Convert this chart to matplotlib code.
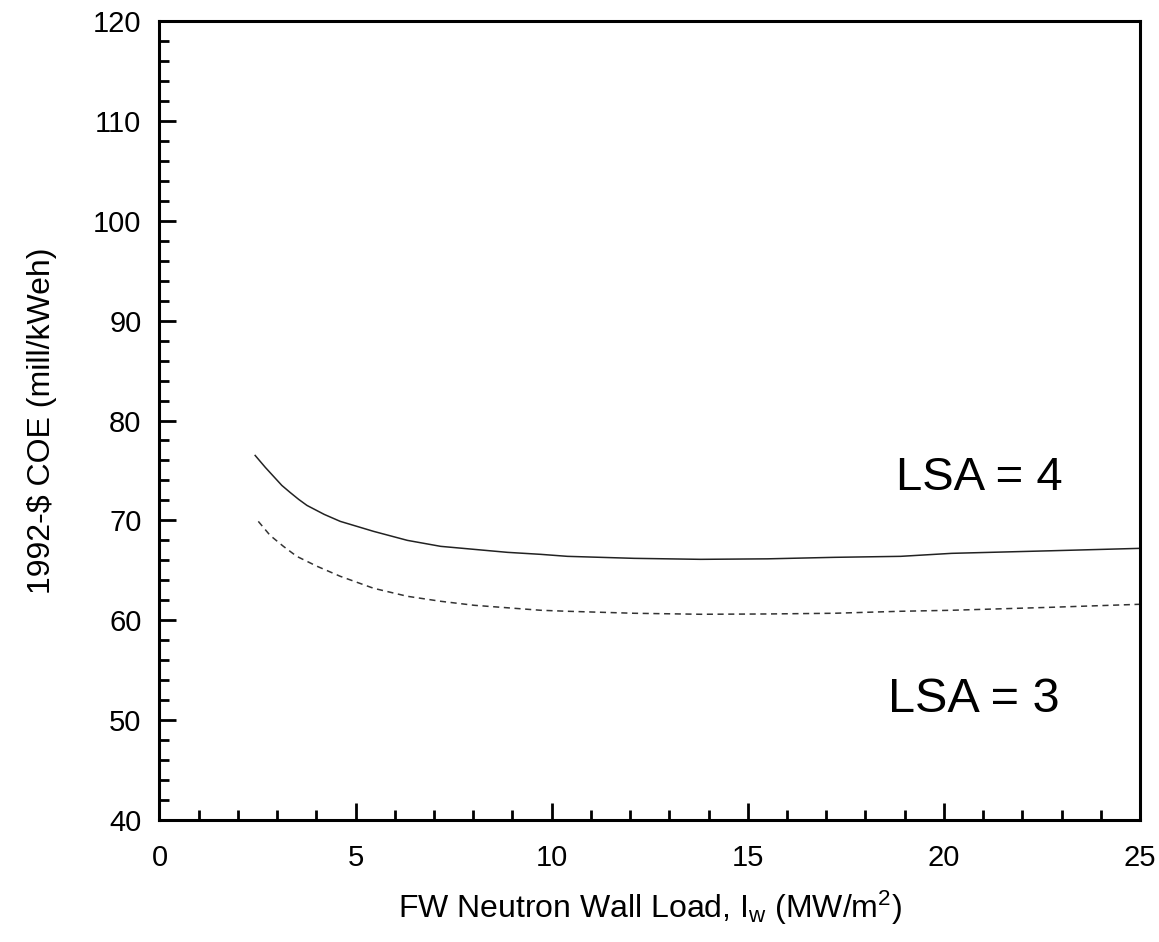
import matplotlib
matplotlib.use("Agg")
import matplotlib.pyplot as plt
from matplotlib.ticker import MultipleLocator

plt.rcParams['font.family'] = ['Liberation Sans', 'DejaVu Sans']
plt.rcParams['mathtext.fontset'] = 'custom'
plt.rcParams['mathtext.rm'] = 'Liberation Sans'
plt.rcParams['mathtext.it'] = 'Liberation Sans:italic'

# LSA = 4 (solid)
x_lsa4 = [2.44, 2.70, 2.91, 3.12, 3.33, 3.55, 3.76, 4.2, 4.61, 5.46, 6.32, 7.17, 8.02, 8.87, 9.72,
          10.4, 12.1, 13.8, 15.5, 17.2, 18.9, 20.2, 22.75, 25.0]
y_lsa4 = [76.5, 75.3, 74.4, 73.5, 72.8, 72.1, 71.5, 70.6, 69.9, 68.9, 68.0, 67.4, 67.1, 66.8, 66.6,
          66.4, 66.2, 66.1, 66.15, 66.3, 66.4, 66.7, 66.96, 67.2]

# LSA = 3 (dashed)
x_lsa3 = [2.52, 2.82, 3.16, 3.50, 4.02, 4.61, 5.46, 6.32, 7.17, 8.02, 8.70,
          9.72, 10.4, 12.1, 13.8, 15.5, 17.2, 18.9, 20.2, 22.75, 25.0]
y_lsa3 = [69.9, 68.5, 67.4, 66.4, 65.4, 64.4, 63.2, 62.4, 61.9, 61.5, 61.3,
          61.0, 60.9, 60.7, 60.6, 60.63, 60.7, 60.9, 61.0, 61.3, 61.6]

labels = ["LSA = 4", "LSA = 3"]

fig = plt.figure(figsize=(11.59, 9.42), dpi=100)
ax = fig.add_axes([0.1376, 0.1295, 0.9836 - 0.1376, 0.9777 - 0.1295])

ax.plot(x_lsa4, y_lsa4, color='#222222', lw=1.1, ls='-')
ax.plot(x_lsa3, y_lsa3, color='#333333', lw=1.1, ls=(0, (4, 3)))

ax.set_xlim(0, 25)
ax.set_ylim(40, 120)
ax.xaxis.set_major_locator(MultipleLocator(5))
ax.xaxis.set_minor_locator(MultipleLocator(1))
ax.yaxis.set_major_locator(MultipleLocator(10))
ax.yaxis.set_minor_locator(MultipleLocator(2))

for s in ax.spines.values():
    s.set_linewidth(2.2)
ax.tick_params(which='both', direction='in', top=False, right=False, width=2.0)
ax.tick_params(which='major', length=12, labelsize=21)
ax.tick_params(axis='x', which='major', pad=17)
ax.tick_params(axis='y', which='major', pad=13)
ax.tick_params(which='minor', length=7)

ax.set_xlabel(r'FW Neutron Wall Load, I$_\mathrm{w}$ (MW/m$^\mathrm{2}$)', fontsize=23, labelpad=12)
ax.set_ylabel(r'1992-\$ COE (mill/kWeh)', fontsize=23, labelpad=26)

ax.text(20.9, 73.0, labels[0], fontsize=34, ha='center', va='baseline')
ax.text(20.76, 50.8, labels[1], fontsize=35, ha='center', va='baseline')

fig.savefig("out.png", dpi=100)
